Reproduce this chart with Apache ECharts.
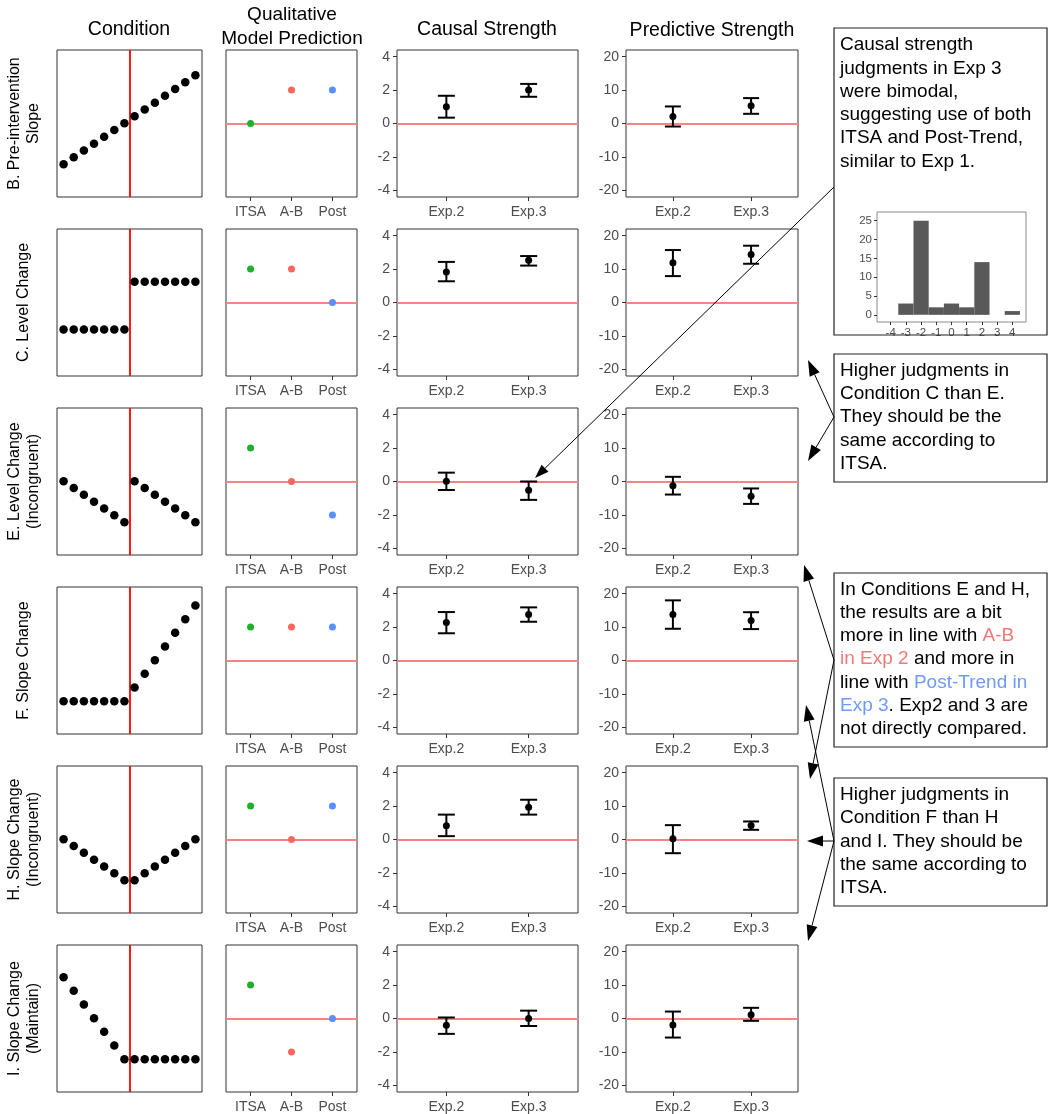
<!DOCTYPE html>
<html>
<head>
<meta charset="utf-8">
<script src="https://cdn.jsdelivr.net/npm/echarts@6/dist/echarts.min.js"></script>
<style>
  html, body { margin: 0; padding: 0; background: #fff; }
  #chart { width: 1050px; height: 1114px; }
</style>
</head>
<body>
<div id="chart"></div>
<script>
// ---- data ----
var rowLabels = [
  "B. Pre-intervention\nSlope",
  "C. Level Change",
  "E. Level Change\n(Incongruent)",
  "F. Slope Change",
  "H. Slope Change\n(Incongruent)",
  "I. Slope Change\n(Maintain)"
];

// condition time series (14 time points, intervention between 7 and 8)
var condB = [1, 2, 3, 4, 5, 6, 7, 8, 9, 10, 11, 12, 13, 14];
var condC = [3, 3, 3, 3, 3, 3, 3, 10, 10, 10, 10, 10, 10, 10];
var condE = [7, 6, 5, 4, 3, 2, 1, 7, 6, 5, 4, 3, 2, 1];
var condF = [1, 1, 1, 1, 1, 1, 1, 3, 5, 7, 9, 11, 13, 15];
var condH = [7, 6, 5, 4, 3, 2, 1, 1, 2, 3, 4, 5, 6, 7];
var condI = [13, 11, 9, 7, 5, 3, 1, 1, 1, 1, 1, 1, 1, 1];
var condRows = [condB, condC, condE, condF, condH, condI];
var interventionAt = 7.5;

// qualitative model prediction
var predCats = ["ITSA", "A-B", "Post"];
var predColors = ["#1DB02A", "#F8675F", "#5B8EFF"];
var predB = [0, 1, 1];
var predC = [1, 1, 0];
var predE = [1, 0, -1];
var predF = [1, 1, 1];
var predH = [1, 0, 1];
var predI = [1, -1, 0];
var predRows = [predB, predC, predE, predF, predH, predI];

// experiments
var expCats = ["Exp.2", "Exp.3"];

// causal strength: mean and CI per row [Exp.2, Exp.3]
var causalMean = [[1.0, 2.0], [1.83, 2.53], [0.02, -0.53], [2.28, 2.76], [0.83, 1.93], [-0.41, 0.0]];
var causalLow  = [[0.35, 1.6], [1.27, 2.21], [-0.51, -1.1], [1.63, 2.32], [0.2, 1.49], [-0.92, -0.45]];
var causalHigh = [[1.66, 2.37], [2.43, 2.78], [0.53, 0.0], [2.9, 3.18], [1.49, 2.38], [0.06, 0.47]];

// predictive strength
var predictMean = [[2.06, 5.3], [11.9, 14.4], [-1.28, -4.45], [13.8, 12.0], [0.2, 4.2], [-1.98, 1.1]];
var predictLow  = [[-0.9, 2.9], [7.9, 11.6], [-3.9, -6.7], [9.5, 9.4], [-4.1, 2.9], [-5.7, -0.7]];
var predictHigh = [[5.1, 7.6], [15.7, 17.0], [1.4, -2.08], [18.0, 14.45], [4.3, 5.4], [2.08, 3.2]];

// tick labels
var causalTicks = [-4, -2, 0, 2, 4];
var predictTicks = [-20, -10, 0, 10, 20];

// histogram of Exp 3 causal judgments (condition E)
var histBins = [-3, -2, -1, 0, 1, 2, 3, 4];
var histCounts = [3, 25, 2, 3, 2, 14, 0, 1];
var histXTicks = [-4, -3, -2, -1, 0, 1, 2, 3, 4];
var histYTicks = [0, 5, 10, 15, 20, 25];

// ---- layout ----
var font = "Liberation Sans, Arial, Helvetica, sans-serif";
var colLeft = [57, 226, 397, 626];
var colWidth = [145, 131, 181, 172];
var rowTop = [50, 229, 408, 587, 766, 945];
var panelH = 147;

var grid = [], xAxis = [], yAxis = [], series = [];

function axis(min, max, ticks, labels, opts) {
  opts = opts || {};
  return {
    type: "value",
    min: min,
    max: max,
    show: opts.show !== false,
    axisLine: { show: false, onZero: false },
    splitLine: { show: false },
    axisTick: {
      show: !!ticks,
      customValues: ticks || undefined,
      length: opts.tickLen || 4,
      lineStyle: { color: "#333", width: 1 }
    },
    axisLabel: {
      show: !!ticks,
      customValues: ticks || undefined,
      color: "#4D4D4D",
      fontSize: opts.fontSize || 14,
      fontFamily: font,
      margin: opts.margin || 7,
      formatter: function (v) {
        if (labels) {
          var k = ticks.indexOf(v);
          return k >= 0 ? labels[k] : "";
        }
        return String(v);
      }
    }
  };
}

function addPanel(left, y0, width, height, xa, ya, border) {
  var i = grid.length;
  grid.push({
    left: left, top: y0, width: width, height: height,
    show: true, borderColor: border || "#333", borderWidth: 1
  });
  xa.gridIndex = i;
  ya.gridIndex = i;
  xAxis.push(xa);
  yAxis.push(ya);
  return i;
}

function refLine(i, val, isX, color, width) {
  var d = isX ? { xAxis: val } : { yAxis: val };
  series.push({
    type: "scatter", xAxisIndex: i, yAxisIndex: i, data: [], z: 1,
    markLine: {
      silent: true, symbol: "none", z: 1, animation: false,
      label: { show: false },
      lineStyle: { color: color, width: width, type: "solid", opacity: 1 },
      data: [d]
    }
  });
}

function errorBars(i, means, lows, highs, capHalf) {
  series.push({
    type: "custom", xAxisIndex: i, yAxisIndex: i, z: 3,
    data: means.map(function (m, k) { return [k + 1, lows[k], highs[k]]; }),
    renderItem: function (params, api) {
      var x = api.value(0);
      var hiPt = api.coord([x, api.value(2)]);
      var loPt = api.coord([x, api.value(1)]);
      var st = { stroke: "#000", lineWidth: 2 };
      return {
        type: "group",
        children: [
          { type: "line", shape: { x1: hiPt[0], y1: hiPt[1], x2: loPt[0], y2: loPt[1] }, style: st },
          { type: "line", shape: { x1: hiPt[0] - capHalf, y1: hiPt[1], x2: hiPt[0] + capHalf, y2: hiPt[1] }, style: st },
          { type: "line", shape: { x1: loPt[0] - capHalf, y1: loPt[1], x2: loPt[0] + capHalf, y2: loPt[1] }, style: st }
        ]
      };
    }
  });
  series.push({
    type: "scatter", xAxisIndex: i, yAxisIndex: i, z: 4,
    symbolSize: 7, itemStyle: { color: "#000", opacity: 1 },
    data: means.map(function (m, k) { return [k + 1, m]; })
  });
}

function buildRow(r) {
  var y0 = rowTop[r];

  // Condition
  var g1 = addPanel(colLeft[0], y0, colWidth[0], panelH,
    axis(0.35, 14.65, null, null, { show: false }),
    axis(-3.8, 17.7, null, null, { show: false }));
  refLine(g1, interventionAt, true, "#FF0000", 1.8);
  series.push({
    type: "scatter", xAxisIndex: g1, yAxisIndex: g1, z: 3,
    symbolSize: 8.5, itemStyle: { color: "#000", opacity: 1 },
    data: condRows[r].map(function (v, k) { return [k + 1, v]; })
  });

  // Qualitative model prediction
  var g2 = addPanel(colLeft[1], y0, colWidth[1], panelH,
    axis(0.4, 3.6, [1, 2, 3], predCats, { margin: 8 }),
    axis(-2.2, 2.2, null, null, { show: false }));
  refLine(g2, 0, false, "#F78383", 2);
  series.push({
    type: "scatter", xAxisIndex: g2, yAxisIndex: g2, z: 3,
    symbolSize: 7,
    data: predRows[r].map(function (v, k) {
      return { value: [k + 1, v], itemStyle: { color: predColors[k], opacity: 1 } };
    })
  });

  // Causal strength
  var g3 = addPanel(colLeft[2], y0, colWidth[2], panelH,
    axis(0.4, 2.6, [1, 2], expCats, { margin: 8 }),
    axis(-4.4, 4.4, causalTicks, null));
  refLine(g3, 0, false, "#F78383", 2);
  errorBars(g3, causalMean[r], causalLow[r], causalHigh[r], 8.5);

  // Predictive strength
  var g4 = addPanel(colLeft[3], y0, colWidth[3], panelH,
    axis(0.4, 2.6, [1, 2], expCats, { margin: 8 }),
    axis(-22, 22, predictTicks, null));
  refLine(g4, 0, false, "#F78383", 2);
  errorBars(g4, predictMean[r], predictLow[r], predictHigh[r], 8);
}
for (var r = 0; r < 6; r++) buildRow(r);

// histogram inset
var gh = addPanel(877, 212, 149, 110,
  axis(-4.9, 4.9, histXTicks, null, { fontSize: 11.5, margin: 5, tickLen: 3 }),
  axis(-1.9, 27.3, histYTicks, null, { fontSize: 11.5, margin: 5, tickLen: 3 }),
  "#8a8a8a");
series.push({
  type: "custom", xAxisIndex: gh, yAxisIndex: gh, z: 3,
  data: histBins.map(function (b, k) { return [b, histCounts[k]]; }),
  renderItem: function (params, api) {
    var x = api.value(0), c = api.value(1);
    var p0 = api.coord([x - 0.5, 0]);
    var p1 = api.coord([x + 0.5, c]);
    return {
      type: "rect",
      shape: { x: p0[0], y: p1[1], width: p1[0] - p0[0], height: p0[1] - p1[1] },
      style: { fill: "#595959" }
    };
  }
});

// ---- text and annotations ----
var graphic = [];
function label(x, y, str, size, lh, rot) {
  return {
    type: "text", x: x, y: y, z: 50, rotation: rot || 0,
    style: {
      text: str, fontSize: size, fontFamily: font, fill: "#000",
      align: "center", verticalAlign: "middle", lineHeight: lh || size * 1.25
    }
  };
}

graphic.push(label(129, 30, "Condition", 19.5));
graphic.push(label(292, 27, "Qualitative\nModel Prediction", 19, 24));
graphic.push(label(487, 30, "Causal Strength", 19.5));
graphic.push(label(712, 31, "Predictive Strength", 19.5));

rowLabels.forEach(function (lab, k) {
  graphic.push(label(24, rowTop[k] + panelH / 2, lab, 16, 19, Math.PI / 2));
});

function box(x, y, w, h, lines, textTop, rich) {
  graphic.push({
    type: "rect", z: 40,
    shape: { x: x, y: y, width: w, height: h },
    style: { fill: "none", stroke: "#222", lineWidth: 1.2 }
  });
  graphic.push({
    type: "text", x: x + 6, y: textTop, z: 41,
    style: {
      text: lines.join("\n"), fontSize: 19, fontFamily: font, fill: "#000",
      align: "left", verticalAlign: "top", lineHeight: 23.3,
      rich: rich || {}
    }
  });
}

var richColors = {
  r: { fill: "#EF7B78", fontSize: 19, fontFamily: font, lineHeight: 23.3 },
  b: { fill: "#6E9AFA", fontSize: 19, fontFamily: font, lineHeight: 23.3 }
};

box(834, 28, 213, 307, [
  "Causal strength",
  "judgments in Exp 3",
  "were bimodal,",
  "suggesting use of both",
  "ITSA and Post-Trend,",
  "similar to Exp 1."
], 33.4);

box(834, 354, 213, 128, [
  "Higher judgments in",
  "Condition C than E.",
  "They should be the",
  "same according to",
  "ITSA."
], 359);

box(834, 573, 213, 174, [
  "In Conditions E and H,",
  "the results are a bit",
  "more in line with {r|A-B}",
  "{r|in Exp 2} and more in",
  "line with {b|Post-Trend in}",
  "{b|Exp 3}. Exp2 and 3 are",
  "not directly compared."
], 577.7, richColors);

box(834, 778, 213, 128, [
  "Higher judgments in",
  "Condition F than H",
  "and I. They should be",
  "the same according to",
  "ITSA."
], 783.3);

function arrow(x1, y1, x2, y2, L, W) {
  var dx = x2 - x1, dy = y2 - y1, len = Math.sqrt(dx * dx + dy * dy);
  var ux = dx / len, uy = dy / len;
  var bx = x2 - ux * L, by = y2 - uy * L;
  graphic.push({
    type: "line", z: 100,
    shape: { x1: x1, y1: y1, x2: bx, y2: by },
    style: { stroke: "#000", lineWidth: 1 }
  });
  graphic.push({
    type: "polygon", z: 100,
    shape: { points: [[x2, y2], [bx - uy * W, by + ux * W], [bx + uy * W, by - ux * W]] },
    style: { fill: "#000" }
  });
}

arrow(834, 187, 535, 478, 14, 5);
arrow(834, 417, 808, 360, 16, 5.5);
arrow(834, 417, 808, 461, 16, 5.5);
arrow(834, 660, 804, 565, 16, 5.5);
arrow(834, 660, 810, 779, 16, 5.5);
arrow(834, 841, 807, 841, 16, 5.5);
arrow(834, 841, 806, 705, 16, 5.5);
arrow(834, 841, 808, 941, 16, 5.5);

var chart = echarts.init(document.getElementById("chart"));
chart.setOption({
  animation: false,
  backgroundColor: "#fff",
  grid: grid,
  xAxis: xAxis,
  yAxis: yAxis,
  series: series,
  graphic: graphic
});
</script>
</body>
</html>
